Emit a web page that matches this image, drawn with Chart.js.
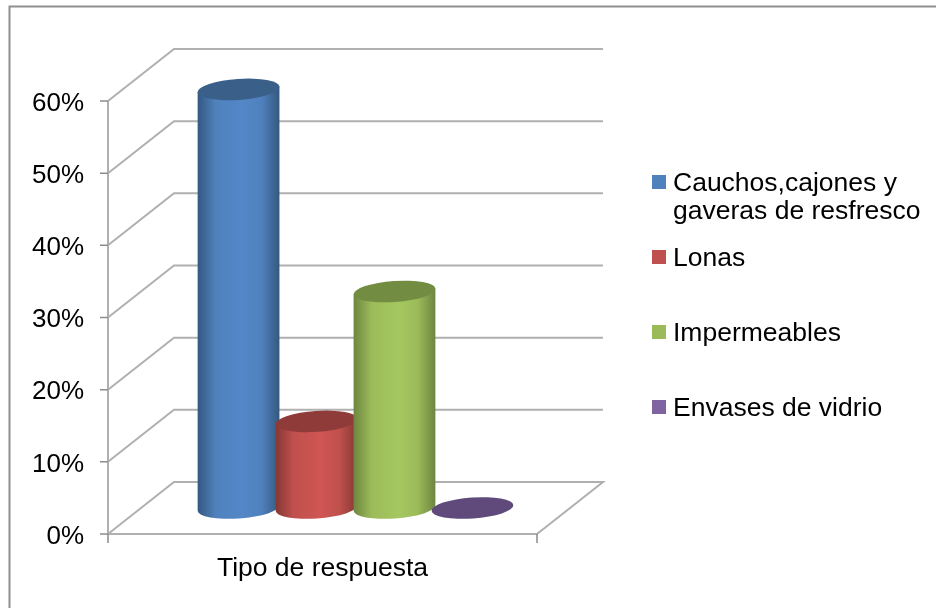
<!DOCTYPE html>
<html lang="en">
<head>
    <meta charset="UTF-8">
    <title>Tipo de respuesta</title>
    <style>
        body { margin: 0; background-color: #fff; }
        #wrap { position: relative; width: 936px; height: 608px; }
        canvas { display: block; }
    </style>
</head>
<body>
    <div id="wrap"><canvas id="chart" width="936" height="608"></canvas></div>
    <script src="https://cdn.jsdelivr.net/npm/chart.js"></script>
    <script>
        const categories = ['Tipo de respuesta'];
        const seriesNames = ['Cauchos,cajones y gaveras de resfresco', 'Lonas', 'Impermeables', 'Envases de vidrio'];
        const seriesValues = [58, 12, 30, 0];
        const legendLines = [['Cauchos,cajones y', 'gaveras de resfresco'], ['Lonas'], ['Impermeables'], ['Envases de vidrio']];
        const legendCenters = [182, 257, 332, 407];
        const seriesColors = ['#4f81bd', '#c0504d', '#9bbb59', '#8064a2'];
        const lightColors = ['#5487c8', '#cf5653', '#a5c75f', '#8064a2'];
        const darkColors = ['#34587f', '#843734', '#6e8640', '#5f4a78'];
        const topColors = ['#3a6089', '#8e3b39', '#728c42', '#604a7b'];

        const depthX = 66;
        const depthY = -52;
        const font = 'Liberation Sans';

        const cylinders = {
            id: 'cylinders',
            beforeDraw(chart) {
                const ctx = chart.ctx;
                ctx.save();
                ctx.strokeStyle = '#8f8f8f';
                ctx.lineWidth = 2;
                ctx.beginPath();
                ctx.moveTo(9.5, chart.height);
                ctx.lineTo(9.5, 6.5);
                ctx.lineTo(chart.width, 6.5);
                ctx.stroke();
                ctx.restore();
            },
            beforeDatasetsDraw(chart) {
                const ctx = chart.ctx;
                const y = chart.scales.y;
                const x = chart.scales.x;
                ctx.save();
                ctx.strokeStyle = '#b0b0b0';
                ctx.lineWidth = 2;
                y.ticks.forEach(t => {
                    const py = y.getPixelForValue(t.value);
                    ctx.beginPath();
                    ctx.moveTo(x.left, py);
                    ctx.lineTo(x.left + depthX, py + depthY);
                    ctx.lineTo(x.right + depthX, py + depthY);
                    if (t.value === 0) {
                        ctx.lineTo(x.right, py);
                        ctx.lineTo(x.left, py);
                    }
                    ctx.stroke();
                });
                ctx.beginPath();
                ctx.moveTo(x.left, y.top);
                ctx.lineTo(x.left, y.bottom);
                ctx.stroke();
                ctx.strokeStyle = '#8c8c8c';
                ctx.lineWidth = 1.5;
                ctx.beginPath();
                y.ticks.forEach(t => {
                    const py = y.getPixelForValue(t.value);
                    ctx.moveTo(x.left - 8, py);
                    ctx.lineTo(x.left, py);
                });
                ctx.moveTo(x.left, y.bottom);
                ctx.lineTo(x.left, y.bottom + 9);
                ctx.moveTo(x.right, y.bottom);
                ctx.lineTo(x.right, y.bottom + 9);
                ctx.stroke();
                ctx.restore();
            },
            afterDatasetsDraw(chart) {
                const ctx = chart.ctx;
                const rx = 41, ry = 10.5, tilt = -0.07;
                ctx.save();
                chart.data.datasets.forEach((ds, i) => {
                    const bar = chart.getDatasetMeta(i).data[0];
                    const cx = bar.x + depthX / 2;
                    const top = bar.y + depthY / 2;
                    const bottom = bar.base + depthY / 2;
                    const sx = rx * Math.sin(tilt);
                    if (bottom - top > 1) {
                        const g = ctx.createLinearGradient(cx - rx, 0, cx + rx, 0);
                        g.addColorStop(0, darkColors[i]);
                        g.addColorStop(0.22, seriesColors[i]);
                        g.addColorStop(0.55, lightColors[i]);
                        g.addColorStop(0.78, seriesColors[i]);
                        g.addColorStop(1, darkColors[i]);
                        ctx.fillStyle = g;
                        ctx.beginPath();
                        ctx.ellipse(cx, bottom, rx, ry, tilt, 0, Math.PI);
                        ctx.lineTo(cx - rx * Math.cos(tilt), top - sx);
                        ctx.lineTo(cx + rx * Math.cos(tilt), top + sx);
                        ctx.closePath();
                        ctx.fill();
                    }
                    ctx.fillStyle = topColors[i];
                    ctx.beginPath();
                    ctx.ellipse(cx, top, rx, ry, tilt, 0, Math.PI * 2);
                    ctx.fill();
                });
                ctx.restore();
            },
            afterDraw(chart) {
                const ctx = chart.ctx;
                ctx.save();
                ctx.textBaseline = 'middle';
                ctx.textAlign = 'left';
                ctx.font = '26.5px "' + font + '"';
                legendLines.forEach((lines, i) => {
                    const c = legendCenters[i];
                    ctx.fillStyle = seriesColors[i];
                    ctx.fillRect(652, c - 7, 14, 14);
                    ctx.fillStyle = '#000';
                    lines.forEach((line, k) => ctx.fillText(line, 673, c + 2 + k * 28));
                });
                ctx.restore();
            }
        };

        new Chart(document.getElementById('chart'), {
            type: 'bar',
            data: {
                labels: categories,
                datasets: seriesNames.map((name, i) => ({
                    label: name,
                    data: [seriesValues[i]],
                    backgroundColor: 'rgba(0,0,0,0)',
                    categoryPercentage: 0.727,
                    barPercentage: 1
                }))
            },
            options: {
                responsive: false,
                animation: false,
                layout: { padding: { left: 0, right: 399, top: 101, bottom: 0 } },
                plugins: { legend: { display: false }, tooltip: { enabled: false } },
                scales: {
                    x: {
                        grid: { display: false },
                        border: { display: false },
                        afterFit(s) { s.height = 74; },
                        ticks: { color: '#000', padding: 11, font: { family: font, size: 26.5 } }
                    },
                    y: {
                        min: 0, max: 60,
                        afterFit(s) { s.width = 108; },
                        grid: { display: false },
                        border: { display: false },
                        ticks: {
                            stepSize: 10, color: '#000', padding: 16,
                            // empty first line with a small line height nudges the labels down
                            callback: v => ['', v + '%'],
                            font: { family: font, size: 26, lineHeight: 0.2 }
                        }
                    }
                }
            },
            plugins: [cylinders]
        });
    </script>
</body>
</html>
